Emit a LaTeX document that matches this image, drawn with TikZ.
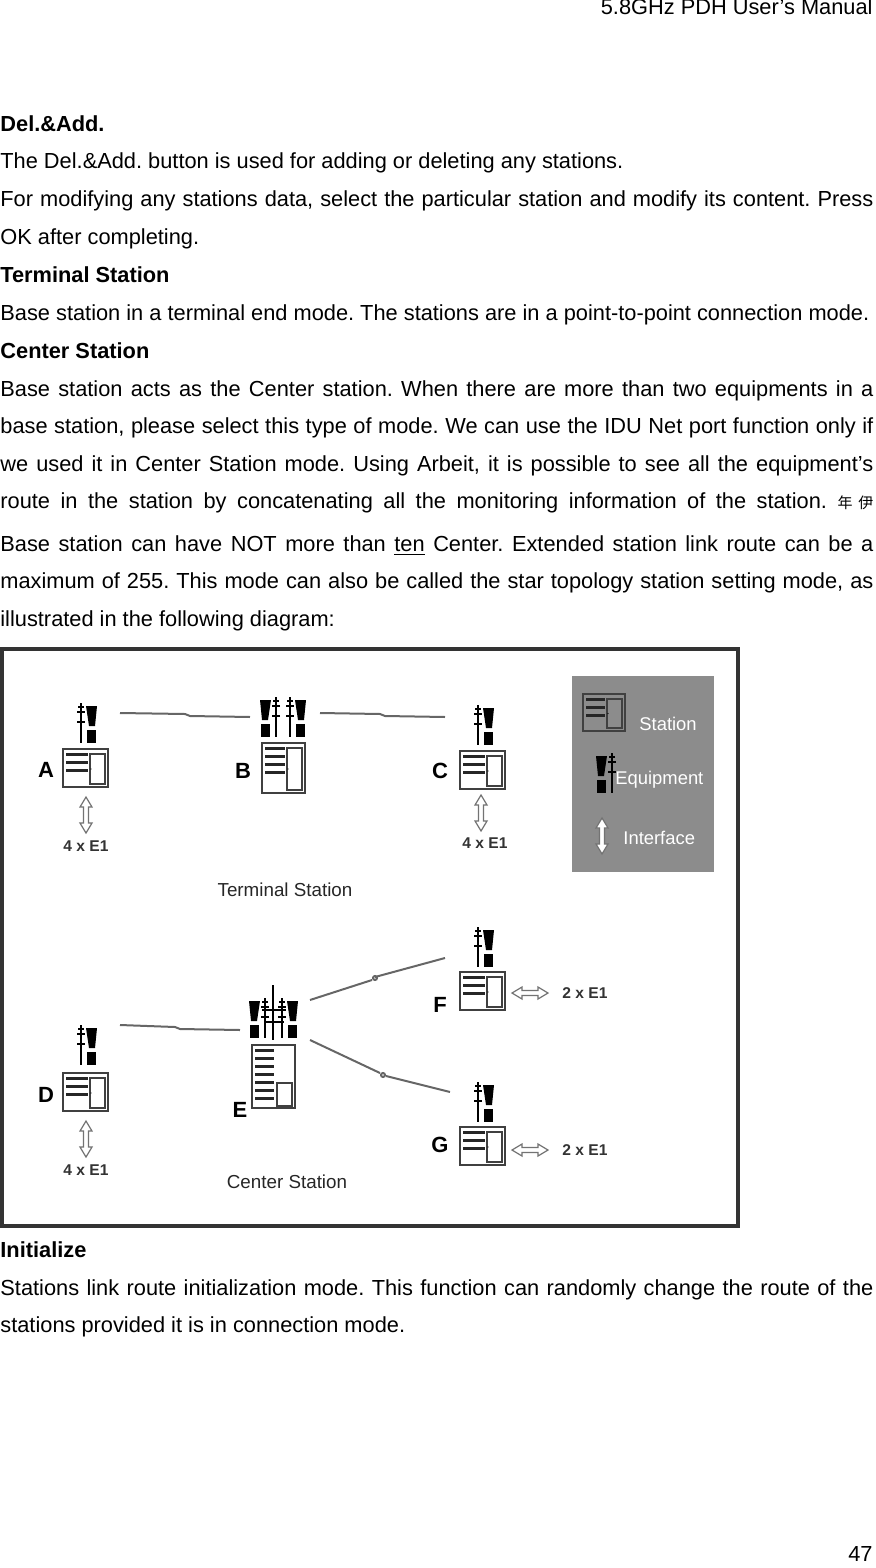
\documentclass[tikz,border=0pt]{standalone}
\usepackage{fontspec}
\setmainfont{Liberation Sans}
\newfontfamily\cjk{Noto Sans CJK SC}
\frenchspacing
\newcommand\stn[5]{\begin{scope}[shift={(#1,#2)}]
\draw[line width=0.9pt,draw=black!75] (0,0) rectangle (#3,#4);
\draw[line width=0.8pt,draw=black!75] (#3-18,5) rectangle (#3-3,#4-3);
\fill (#3-17,{#4/2+1}) circle (0.6);
\foreach \i in {1,...,#5}{\fill[black!85] (3,\i*8-4) rectangle (#3-20,\i*8-1);}
\end{scope}}
\newcommand\eqp[3]{\begin{scope}[shift={(#1,#2)},xscale=#3]
\draw[line width=1.1pt] (0,0)--(0,40);
\draw[line width=0.7pt] (-4,9)--(4,9) (-4,19)--(4,19) (-3,4)--(3,4);
\fill (5,3)--(16,3)--(14,23)--(8,23)--cycle;
\fill (6,27) rectangle (15,40);
\end{scope}}
\newcommand\harr[4]{\begin{scope}[shift={(#1,#2)},rotate=#4]
\draw[line width=0.6pt,draw=black!55,fill=#3] (0,0)--(6,10)--(2.5,10)--(2.5,26)--(6,26)--(0,36)--(-6,26)--(-2.5,26)--(-2.5,10)--(-6,10)--cycle;
\end{scope}}
\tikzset{txt/.style={anchor=base west,inner sep=0pt,font=\fontsize{10.9}{12}\selectfont},
lbl/.style={inner sep=0pt,font=\fontsize{11}{12}\selectfont\bfseries},
small/.style={inner sep=0pt,font=\fontsize{7.8}{9}\selectfont\bfseries,text=black!80},
captxt/.style={inner sep=0pt,font=\fontsize{9.4}{10}\selectfont,text=black!85},
legt/.style={inner sep=0pt,anchor=west,font=\fontsize{9.2}{10}\selectfont,text=white},
link/.style={line width=1pt,draw=black!60}}
\begin{document}
\begin{tikzpicture}[x=0.5pt,y=-0.5pt]
\useasboundingbox (0,0) rectangle (875,1568);
\node[anchor=base east,inner sep=0pt,font=\fontsize{10.9}{12}\selectfont] (hdr) at (873,15) {5.8GHz PDH User’s Manual};
\node[txt] (t1) at (0,132) {\bfseries Del.\&Add.};
\node[txt] (t2) at (0,169) {The Del.\&Add. button is used for adding or deleting any stations.};
\node[txt] (t3) at (0,206) {\hbox to 436.5pt{For modifying any stations data, select the particular station and modify its content. Press}};
\node[txt] (t4) at (0,244) {OK after completing.};
\node[txt] (t5) at (0,282) {\bfseries Terminal Station};
\node[txt] (t6) at (0,320) {Base station in a terminal end mode. The stations are in a point-to-point connection mode.};
\node[txt] (t7) at (0,358) {\bfseries Center Station};
\node[txt] (t8) at (0,396) {\hbox to 436.5pt{Base station acts as the Center station. When there are more than two equipments in a}};
\node[txt] (t9) at (0,433) {\hbox to 436.5pt{base station, please select this type of mode. We can use the IDU Net port function only if}};
\node[txt] (t10) at (0,471) {\hbox to 436.5pt{we used it in Center Station mode. Using Arbeit, it is possible to see all the equipment’s}};
\node[txt] (t11) at (0,508) {\hbox to 436.5pt{route in the station by concatenating all the monitoring information of the station. {\cjk\fontsize{7.5}{8}\selectfont 年 伊}}};
\node[txt] (t12) at (0,551) {\hbox to 436.5pt{Base station can have NOT more than \underline{ten} Center. Extended station link route can be a}};
\node[txt] (t13) at (0,588) {\hbox to 436.5pt{maximum of 255. This mode can also be called the star topology station setting mode, as}};
\node[txt] (t14) at (0,626) {illustrated in the following diagram:};
\node[txt] (t15) at (0,1257) {\bfseries Initialize};
\node[txt] (t16) at (0,1295) {\hbox to 436.5pt{Stations link route initialization mode. This function can randomly change the route of the}};
\node[txt] (t17) at (0,1332) {stations provided it is in connection mode.};
\node[anchor=base east,inner sep=0pt,font=\fontsize{10.9}{12}\selectfont] (pg) at (873,1561) {47};
% diagram frame
\draw[line width=1.6pt,draw=black!80] (2,649) rectangle (738,1226);
% legend
\fill[black!45] (572,676) rectangle (714,872);
\stn{583}{694}{42}{37}{3}
\node[legt] (ls) at (639,724) {Station};
\eqp{612}{753}{-1}
\node[legt] (le) at (615,780) {Equipment};
\harr{602}{818}{white}{0}
\node[legt] (li) at (623,838) {Interface};
% terminal
\eqp{81}{703}{1}
\stn{63}{749}{45}{38}{3}
\node[lbl] (A) at (46,770) {A};
\eqp{276}{697}{-1}\eqp{290}{697}{1}
\stn{262}{743}{43}{50}{4}
\node[lbl] (B) at (243,771) {B};
\eqp{478}{705}{1}
\stn{460}{751}{45}{38}{3}
\node[lbl] (C) at (440,771) {C};
\draw[link] (120,713)--(185,714)--(190,716)--(250,717);
\draw[link] (320,713)--(380,714)--(385,716)--(445,717);
\harr{86}{797}{white}{0}
\node[small] (a1) at (86,846) {4 x E1};
\harr{481}{795}{white}{0}
\node[small] (c1) at (485,843) {4 x E1};
\node[captxt] (ts) at (285,890) {Terminal Station};
% center
\eqp{81}{1025}{1}
\stn{63}{1073}{45}{38}{3}
\node[lbl] (D) at (46,1095) {D};
\harr{86}{1121}{white}{0}
\node[small] (d1) at (86,1170) {4 x E1};
\eqp{265}{998}{-1}\eqp{282}{998}{1}
\draw[line width=0.9pt] (273,985)--(273,1040);
\draw[line width=0.7pt] (262,1010)--(286,1010) (264,1022)--(284,1022);
\begin{scope}[shift={(252,1045)}]
\draw[line width=0.9pt,draw=black!75] (0,0) rectangle (43,63);
\draw[line width=0.8pt,draw=black!75] (25,38) rectangle (40,61);
\foreach \i in {1,...,7}{\fill[black!85] (3,\i*8-4) rectangle (22,\i*8-1);}
\end{scope}
\node[lbl] (E) at (240,1110) {E};
\eqp{478}{927}{1}
\stn{460}{972}{45}{38}{3}
\node[lbl] (F) at (440,1005) {F};
\harr{512}{993}{white}{90}
\node[small] (f1) at (585,993) {2 x E1};
\eqp{478}{1082}{1}
\stn{460}{1127}{45}{38}{3}
\node[lbl] (G) at (440,1145) {G};
\harr{512}{1150}{white}{90}
\node[small] (g1) at (585,1150) {2 x E1};
\draw[link] (120,1025)--(175,1027)--(180,1029)--(240,1030);
\draw[link] (310,1000)--(372,980) (375,977)--(445,958);
\draw[link] (375,978) circle (2);
\draw[link] (310,1040)--(380,1073) (386,1076)--(450,1092);
\draw[link] (383,1075) circle (2);
\node[captxt] (cs) at (287,1182) {Center Station};
\end{tikzpicture}
\end{document}
